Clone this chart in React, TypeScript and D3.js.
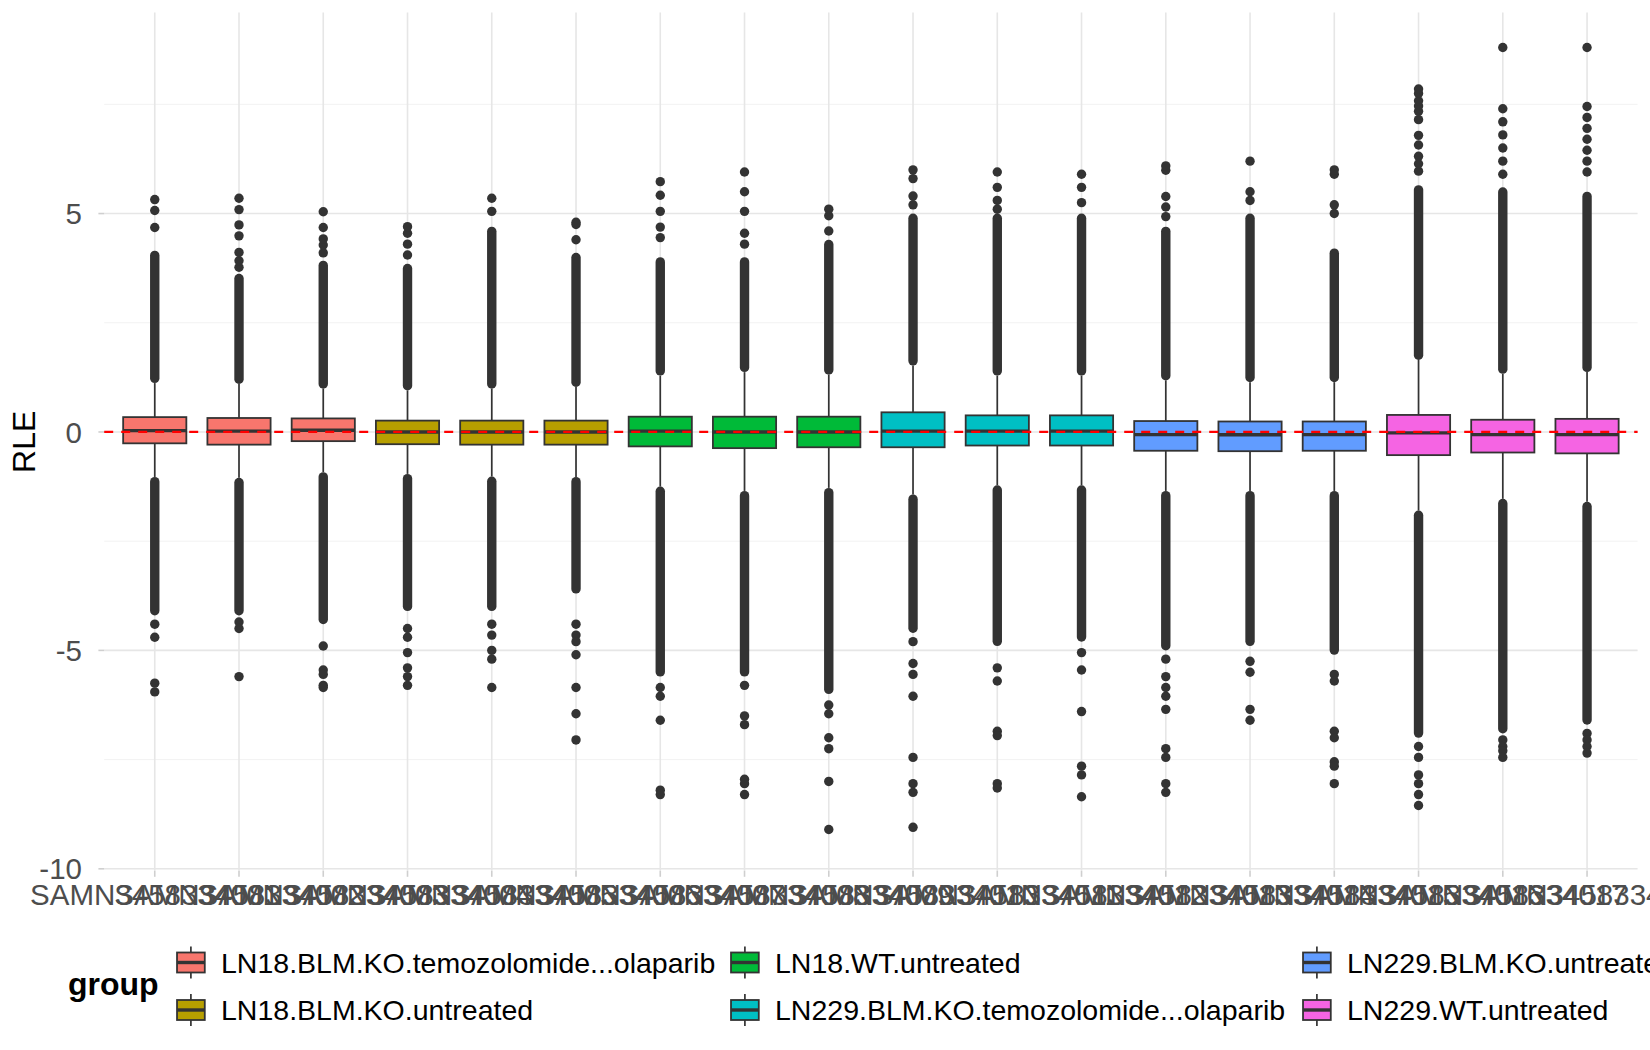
import React, { useEffect, useRef } from "react";
import * as d3 from "d3";

// samples along the x axis
const samples = [
  "SAMN3458334001", "SAMN3458334002", "SAMN3458334003", "SAMN3458334004",
  "SAMN3458334005", "SAMN3458334006", "SAMN3458334007", "SAMN3458334008",
  "SAMN3458334009", "SAMN3458334010", "SAMN3458334011", "SAMN3458334012",
  "SAMN3458334013", "SAMN3458334014", "SAMN3458334015", "SAMN3458334016",
  "SAMN3458334017", "SAMN3458334018",
];

const groups = [
  "LN18.BLM.KO.temozolomide...olaparib",
  "LN18.BLM.KO.untreated",
  "LN18.WT.untreated",
  "LN229.BLM.KO.temozolomide...olaparib",
  "LN229.BLM.KO.untreated",
  "LN229.WT.untreated",
];
const groupColors = ["#F8766D", "#B79F00", "#00BA38", "#00BFC4", "#619CFF", "#F564E3"];
const sampleGroup = [0, 0, 0, 1, 1, 1, 2, 2, 2, 3, 3, 3, 4, 4, 4, 5, 5, 5];

// box statistics per sample
const q3 = [0.34, 0.32, 0.31, 0.26, 0.26, 0.26, 0.35, 0.35, 0.35, 0.45, 0.38, 0.38, 0.25, 0.24, 0.24, 0.39, 0.28, 0.3];
const median = [0.03, 0.02, 0.04, 0.0, 0.0, 0.0, 0.02, 0.0, 0.0, 0.02, 0.02, 0.02, -0.06, -0.065, -0.06, -0.02, -0.06, -0.06];
const q1 = [-0.26, -0.29, -0.21, -0.28, -0.29, -0.29, -0.33, -0.37, -0.35, -0.35, -0.31, -0.31, -0.43, -0.44, -0.43, -0.53, -0.47, -0.49];
const whiskerHigh = [1.12, 1.1, 0.99, 0.95, 0.99, 1.03, 1.29, 1.37, 1.31, 1.52, 1.29, 1.29, 1.18, 1.14, 1.14, 1.65, 1.33, 1.37];
const whiskerLow = [-1.03, -1.05, -0.92, -0.96, -1.02, -1.03, -1.25, -1.35, -1.28, -1.43, -1.22, -1.22, -1.35, -1.35, -1.35, -1.8, -1.53, -1.6];

// outliers so dense they form a solid column (from whisker end to these values)
const upperDenseTop = [4.15, 3.62, 3.92, 3.85, 4.7, 4.1, 4.0, 4.0, 4.4, 5.0, 5.0, 5.0, 4.7, 5.0, 4.2, 5.65, 5.6, 5.5];
const lowerDenseBottom = [-4.2, -4.2, -4.4, -4.1, -4.1, -3.7, -5.6, -5.6, -6.0, -4.6, -4.9, -4.8, -5.0, -4.9, -5.1, -7.0, -6.9, -6.7];

// separate outlier points
const upperOutliers = [
  [4.68, 5.07, 5.32],
  [3.77, 3.92, 4.11, 4.49, 4.74, 5.09, 5.35],
  [4.1, 4.28, 4.42, 4.68, 5.04],
  [4.05, 4.3, 4.55, 4.7],
  [5.05, 5.35],
  [4.4, 4.75, 4.8],
  [4.45, 4.69, 5.05, 5.42, 5.73],
  [4.3, 4.55, 5.05, 5.5, 5.95],
  [4.6, 4.95, 5.1],
  [5.2, 5.4, 5.8, 6.0],
  [5.1, 5.3, 5.6, 5.95],
  [5.25, 5.6, 5.9],
  [4.93, 5.15, 5.39, 5.99, 6.09],
  [5.3, 5.5, 6.2],
  [5.0, 5.2, 5.9, 6.0],
  [5.97, 6.14, 6.31, 6.57, 6.79, 7.15, 7.34, 7.46, 7.58, 7.75, 7.85],
  [5.9, 6.2, 6.5, 6.8, 7.1, 7.4, 8.8],
  [5.95, 6.2, 6.45, 6.7, 6.95, 7.2, 7.45, 8.8],
];
const lowerOutliers = [
  [-4.4, -4.7, -5.75, -5.95],
  [-4.35, -4.5, -5.6],
  [-4.9, -5.45, -5.55, -5.8, -5.85],
  [-4.5, -4.7, -5.05, -5.4, -5.6, -5.8],
  [-4.4, -4.65, -5.0, -5.2, -5.85],
  [-4.4, -4.65, -4.8, -5.1, -5.85, -6.45, -7.05],
  [-5.85, -6.05, -6.6, -8.2, -8.3],
  [-5.8, -6.5, -6.7, -7.95, -8.05, -8.3],
  [-6.25, -6.45, -7.0, -7.25, -8.0, -9.1],
  [-4.8, -5.3, -5.55, -6.05, -7.45, -8.05, -8.25, -9.05],
  [-5.4, -5.7, -6.85, -6.95, -8.05, -8.15],
  [-5.05, -5.45, -6.4, -7.65, -7.85, -8.35],
  [-5.2, -5.6, -5.85, -6.05, -6.35, -7.25, -7.45, -8.05, -8.25],
  [-5.25, -5.5, -6.35, -6.6],
  [-5.55, -5.7, -6.85, -7.0, -7.55, -7.65, -8.05],
  [-7.2, -7.45, -7.85, -8.05, -8.3, -8.55],
  [-7.05, -7.2, -7.3, -7.45],
  [-6.9, -7.05, -7.2, -7.35],
];

const yMajor = [-10, -5, 0, 5];
const yMinor = [-7.5, -2.5, 2.5, 7.5];

const W = 1650;
const H = 1050;
const FONT = "'Liberation Sans', Arial, Helvetica, sans-serif";

const App = () => {
  const svgRef = useRef<SVGSVGElement>(null);

  useEffect(() => {
    const svg = d3.select(svgRef.current);
    svg.selectAll("*").remove();

    const panel = { left: 104.2, right: 1637.6, top: 12.6, bottom: 871 };
    const x = d3
      .scaleBand<string>()
      .domain(samples)
      .range([panel.left, panel.right])
      .paddingInner(0)
      .paddingOuter(0.1);
    const y = d3.scaleLinear().domain([-10.05, 9.6]).range([panel.bottom, panel.top]);
    const cx = (i: number) => (x(samples[i]) as number) + x.bandwidth() / 2;
    const boxW = x.step() * 0.75;
    const r = 4.7;
    const ink = "#333333";

    svg.append("rect").attr("width", W).attr("height", H).attr("fill", "#fff");

    // grid
    const grid = svg.append("g");
    grid
      .selectAll("line.minor")
      .data(yMinor)
      .enter()
      .append("line")
      .attr("x1", panel.left)
      .attr("x2", panel.right)
      .attr("y1", (d) => y(d))
      .attr("y2", (d) => y(d))
      .attr("stroke", "#F2F2F2")
      .attr("stroke-width", 1);
    grid
      .selectAll("line.major")
      .data(yMajor)
      .enter()
      .append("line")
      .attr("x1", panel.left)
      .attr("x2", panel.right)
      .attr("y1", (d) => y(d))
      .attr("y2", (d) => y(d))
      .attr("stroke", "#E6E6E6")
      .attr("stroke-width", 1.6);
    grid
      .selectAll("line.vert")
      .data(samples)
      .enter()
      .append("line")
      .attr("x1", (d, i) => cx(i))
      .attr("x2", (d, i) => cx(i))
      .attr("y1", panel.top)
      .attr("y2", panel.bottom)
      .attr("stroke", "#E6E6E6")
      .attr("stroke-width", 1.6);

    // axis ticks and labels
    const axes = svg.append("g").attr("font-family", FONT);
    yMajor.forEach((v) => {
      axes
        .append("line")
        .attr("x1", panel.left - 5.8)
        .attr("x2", panel.left)
        .attr("y1", y(v))
        .attr("y2", y(v))
        .attr("stroke", "#CFCFCF")
        .attr("stroke-width", 1.6);
      axes
        .append("text")
        .attr("x", 82)
        .attr("y", y(v))
        .attr("dy", "0.36em")
        .attr("text-anchor", "end")
        .attr("font-size", 29.5)
        .attr("fill", "#4D4D4D")
        .text(String(v));
    });
    samples.forEach((s, i) => {
      axes
        .append("line")
        .attr("x1", cx(i))
        .attr("x2", cx(i))
        .attr("y1", panel.bottom)
        .attr("y2", panel.bottom + 5.8)
        .attr("stroke", "#CFCFCF")
        .attr("stroke-width", 1.6);
      axes
        .append("text")
        .attr("x", cx(i))
        .attr("y", 905)
        .attr("text-anchor", "middle")
        .attr("font-size", 29.5)
        .attr("fill", "#4D4D4D")
        .text(s);
    });
    axes
      .append("text")
      .attr("transform", `translate(34.5, ${(panel.top + panel.bottom) / 2}) rotate(-90)`)
      .attr("text-anchor", "middle")
      .attr("font-size", 32)
      .attr("fill", "#000")
      .text("RLE");

    // boxplots
    const boxes = svg.append("g");
    samples.forEach((s, i) => {
      const c = cx(i);
      const g = boxes.append("g");
      // whiskers
      g.append("line")
        .attr("x1", c).attr("x2", c)
        .attr("y1", y(q3[i])).attr("y2", y(whiskerHigh[i]))
        .attr("stroke", ink).attr("stroke-width", 1.7);
      g.append("line")
        .attr("x1", c).attr("x2", c)
        .attr("y1", y(q1[i])).attr("y2", y(whiskerLow[i]))
        .attr("stroke", ink).attr("stroke-width", 1.7);
      // dense outlier columns
      g.append("line")
        .attr("x1", c).attr("x2", c)
        .attr("y1", y(whiskerHigh[i]) - r).attr("y2", y(upperDenseTop[i]) + r)
        .attr("stroke", ink).attr("stroke-width", r * 2).attr("stroke-linecap", "round");
      g.append("line")
        .attr("x1", c).attr("x2", c)
        .attr("y1", y(whiskerLow[i]) + r).attr("y2", y(lowerDenseBottom[i]) - r)
        .attr("stroke", ink).attr("stroke-width", r * 2).attr("stroke-linecap", "round");
      // separate outliers
      g.selectAll("circle")
        .data([...upperOutliers[i], ...lowerOutliers[i]])
        .enter()
        .append("circle")
        .attr("cx", c)
        .attr("cy", (d) => y(d))
        .attr("r", r)
        .attr("fill", ink);
      // box
      g.append("rect")
        .attr("x", c - boxW / 2)
        .attr("width", boxW)
        .attr("y", y(q3[i]))
        .attr("height", y(q1[i]) - y(q3[i]))
        .attr("fill", groupColors[sampleGroup[i]])
        .attr("stroke", ink)
        .attr("stroke-width", 1.8);
      g.append("line")
        .attr("x1", c - boxW / 2).attr("x2", c + boxW / 2)
        .attr("y1", y(median[i])).attr("y2", y(median[i]))
        .attr("stroke", ink).attr("stroke-width", 3.4);
    });

    // reference line at 0
    svg
      .append("line")
      .attr("x1", panel.left)
      .attr("x2", panel.right)
      .attr("y1", y(0))
      .attr("y2", y(0))
      .attr("stroke", "#FF0000")
      .attr("stroke-width", 2.2)
      .attr("stroke-dasharray", "9,8");

    // legend
    const legend = svg.append("g").attr("font-family", FONT);
    legend
      .append("text")
      .attr("x", 68)
      .attr("y", 995)
      .attr("font-size", 32)
      .attr("font-weight", "bold")
      .attr("fill", "#000")
      .text("group");
    const colX = [172.4, 726.4, 1298.4];
    const rowY = [962.5, 1010];
    const kw = 37;
    const kh = 40;
    groups.forEach((name, i) => {
      const kx = colX[Math.floor(i / 2)];
      const ky = rowY[i % 2];
      const k = legend.append("g").attr("transform", `translate(${kx},${ky - kh / 2})`);
      k.append("line")
        .attr("x1", kw / 2).attr("x2", kw / 2)
        .attr("y1", kh * 0.1).attr("y2", kh * 0.9)
        .attr("stroke", ink).attr("stroke-width", 1.7);
      k.append("rect")
        .attr("x", kw * 0.125).attr("width", kw * 0.75)
        .attr("y", kh * 0.25).attr("height", kh * 0.5)
        .attr("fill", groupColors[i])
        .attr("stroke", ink).attr("stroke-width", 1.8);
      k.append("line")
        .attr("x1", kw * 0.125).attr("x2", kw * 0.875)
        .attr("y1", kh / 2).attr("y2", kh / 2)
        .attr("stroke", ink).attr("stroke-width", 3.4);
      legend
        .append("text")
        .attr("x", kx + kw + 11.6)
        .attr("y", ky)
        .attr("dy", "0.36em")
        .attr("font-size", 28.5)
        .attr("fill", "#000")
        .text(name);
    });
  }, []);

  return (
    <svg
      ref={svgRef}
      width={W}
      height={H}
      style={{ position: "absolute", left: 0, top: 0, display: "block" }}
    />
  );
};

export default App;
